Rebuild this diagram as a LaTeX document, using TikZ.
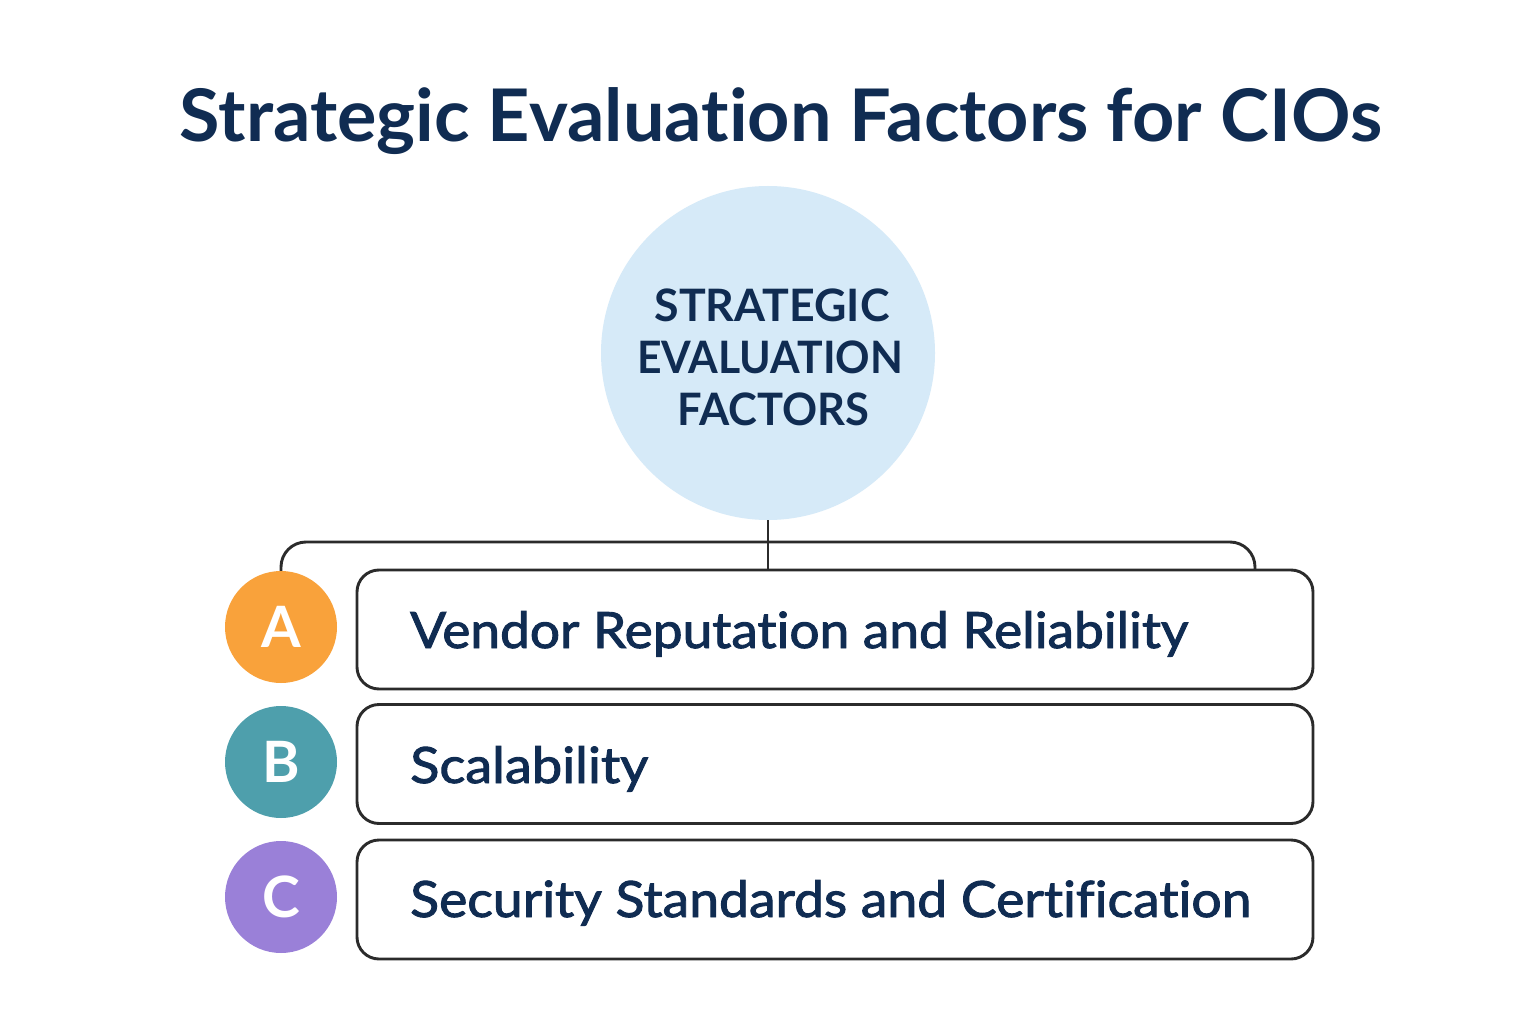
\documentclass[tikz,border=0pt]{standalone}
\usepackage{fontspec}
\usepackage{graphicx}
\setmainfont{Lato}[RawFeature={-liga;-clig;-calt;-dlig}]
\newfontfamily\boxfont{Lato}[FakeBold=1.8, RawFeature={-liga;-clig;-calt;-dlig}]
\newcommand{\tsep}{\kern0pt\relax}
\definecolor{navy}{HTML}{102C52}
\definecolor{hubblue}{HTML}{D6EAF8}
\definecolor{lineclr}{HTML}{2B2B2B}
\definecolor{orangeA}{HTML}{F9A23B}
\definecolor{tealB}{HTML}{4E9FAC}
\definecolor{purpleC}{HTML}{9A80D8}
\begin{document}
\begin{tikzpicture}[x=1pt,y=-1pt,
  factorbox/.style={draw=lineclr, line width=2.9pt, rounded corners=22pt, fill=white,
    minimum width=956pt, minimum height=119pt, inner sep=0pt},
  badge/.style={circle, minimum size=112pt, inner sep=0pt, text=white,
    font=\fontsize{57}{57}\selectfont\bfseries},
  boxtext/.style={anchor=base west, text=navy, inner sep=0pt,
    font=\boxfont\fontsize{50}{50}\selectfont},
  hubtext/.style={anchor=base, text=navy, inner sep=0pt,
    font=\fontsize{44.7}{44.7}\selectfont\bfseries},
  conn/.style={draw=lineclr, line width=2.9pt}]
\useasboundingbox (0,0) rectangle (1536,1024);
\fill[white] (0,0) rectangle (1536,1024);

\node[anchor=base, text=navy, inner sep=0pt, font=\fontsize{72.6}{72.6}\selectfont\bfseries]
  (title) at (781,142) {\resizebox{1202pt}{\height}{Strategic Evaluat\tsep ion Factors for CIOs}};

\node[circle, fill=hubblue, minimum size=334pt, inner sep=0pt] (hub) at (768,353) {};
\node[hubtext] (h1) at (772,321) {\resizebox{235pt}{\height}{STRATEGIC}};
\node[hubtext] (h2) at (770,373) {\resizebox{266pt}{\height}{EVALUATION}};
\node[hubtext] (h3) at (773,425) {\resizebox{192pt}{\height}{FACTORS}};

\node[factorbox] (box1) at (835,629.5) {};
\node[factorbox] (box2) at (835,764) {};
\node[factorbox] (box3) at (835,899.5) {};

\node[badge, fill=orangeA] (ca) at (281,627) {A};
\node[badge, fill=tealB] (cb) at (281,762) {B};
\node[badge, fill=purpleC] (cc) at (281,897) {C};

\node[boxtext] (t1) at (410,648) {\resizebox{778pt}{\height}{Vendor Reputat\tsep ion and Reliability}};
\node[boxtext] (t2) at (410,783) {\resizebox{238pt}{\height}{Scalability}};
\node[boxtext] (t3) at (410,917) {\resizebox{841pt}{\height}{Security Standards and Certif\tsep icat\tsep ion}};

\coordinate (bar) at (768,542);
\coordinate (rend) at (1255,570);
\draw[conn] (hub.south) -- (hub.south |- box1.north);
\draw[conn, rounded corners=25pt] (ca.north) |- (bar) -| (rend);
\end{tikzpicture}
\end{document}
